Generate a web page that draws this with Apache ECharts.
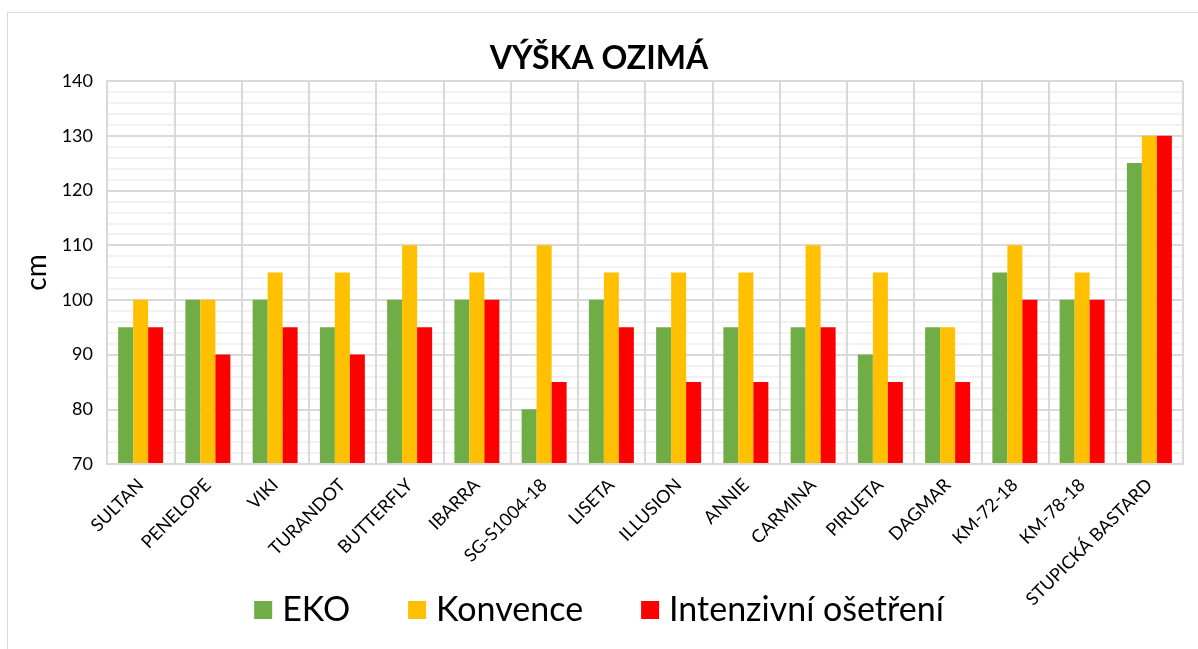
<!DOCTYPE html>
<html>
<head>
<meta charset="utf-8">
<script src="https://cdn.jsdelivr.net/npm/echarts@6/dist/echarts.min.js"></script>
<style>
  html, body { margin: 0; padding: 0; background: #fff; }
  #frame { position: absolute; left: 7px; top: 12px; width: 1200px; height: 700px; border: 1px solid #d9d9d9; }
  #main { position: absolute; left: 0; top: 0; width: 1198px; height: 649px; }
</style>
</head>
<body>
<div id="frame"></div>
<div id="main"></div>
<script>
// kategorie (odrůdy)
var categories = ['SULTAN', 'PENELOPE', 'VIKI', 'TURANDOT', 'BUTTERFLY', 'IBARRA', 'SG-S1004-18', 'LISETA',
  'ILLUSION', 'ANNIE', 'CARMINA', 'PIRUETA', 'DAGMAR', 'KM-72-18', 'KM-78-18', 'STUPICKÁ BASTARD'];
var eko = [95, 100, 100, 95, 100, 100, 80, 100, 95, 95, 95, 90, 95, 105, 100, 125];
var konvence = [100, 100, 105, 105, 110, 105, 110, 105, 105, 105, 110, 105, 95, 110, 105, 130];
var intenzivni = [95, 90, 95, 90, 95, 100, 85, 95, 85, 85, 95, 85, 85, 100, 100, 130];
var seriesNames = ['EKO', 'Konvence', 'Intenzivní ošetření'];
var colors = ['#70AD47', '#FFC000', '#FF0000'];

var chart = echarts.init(document.getElementById('main'), null, {renderer: 'canvas'});
var font = 'Lato, "Noto Sans", sans-serif';

var series = [eko, konvence, intenzivni].map(function (d, i) {
  return {
    name: seriesNames[i],
    type: 'bar',
    data: d,
    barWidth: 15,
    barGap: '0%',
    itemStyle: { color: colors[i] }
  };
});

chart.setOption({
  animation: false,
  textStyle: { fontFamily: font },
  title: {
    text: 'VÝŠKA OZIMÁ',
    left: 'center',
    top: 38,
    textStyle: { fontFamily: font, fontSize: 32, fontWeight: 'bold', color: '#000' }
  },
  legend: {
    data: seriesNames,
    bottom: 17,
    left: 'center',
    itemWidth: 18,
    itemHeight: 18,
    itemGap: 58,
    icon: 'rect',
    textStyle: { fontFamily: font, fontSize: 34, color: '#000', padding: [0, 0, 0, 5] }
  },
  grid: { left: 107, right: 15, top: 81, bottom: 185, containLabel: false },
  xAxis: [
    {
      type: 'category',
      data: categories,
      axisTick: { show: false },
      axisLine: { lineStyle: { color: '#d9d9d9', width: 2 } },
      splitLine: { show: true, lineStyle: { color: '#d9d9d9', width: 2 } },
      axisLabel: { rotate: 45, interval: 0, fontFamily: font, fontSize: 18, color: '#000', margin: 18 },
      z: 3
    },
    {
      type: 'value',
      min: 0,
      max: 32,
      interval: 1,
      show: false,
      splitLine: { show: true, lineStyle: { color: '#f2f2f2', width: 2 } }
    }
  ],
  yAxis: {
    type: 'value',
    min: 70,
    max: 140,
    interval: 10,
    name: 'cm',
    nameLocation: 'middle',
    nameGap: 56,
    nameRotate: 90,
    nameTextStyle: { fontFamily: font, fontSize: 28, color: '#000' },
    axisLine: { show: true, lineStyle: { color: '#d9d9d9', width: 2 } },
    axisTick: { show: false },
    axisLabel: { fontFamily: font, fontSize: 18, color: '#000', margin: 14 },
    splitLine: { show: true, lineStyle: { color: '#d9d9d9', width: 2 } },
    minorTick: { show: false, splitNumber: 5 },
    minorSplitLine: { show: true, lineStyle: { color: '#f2f2f2', width: 2 } }
  },
  series: series
});
</script>
</body>
</html>
